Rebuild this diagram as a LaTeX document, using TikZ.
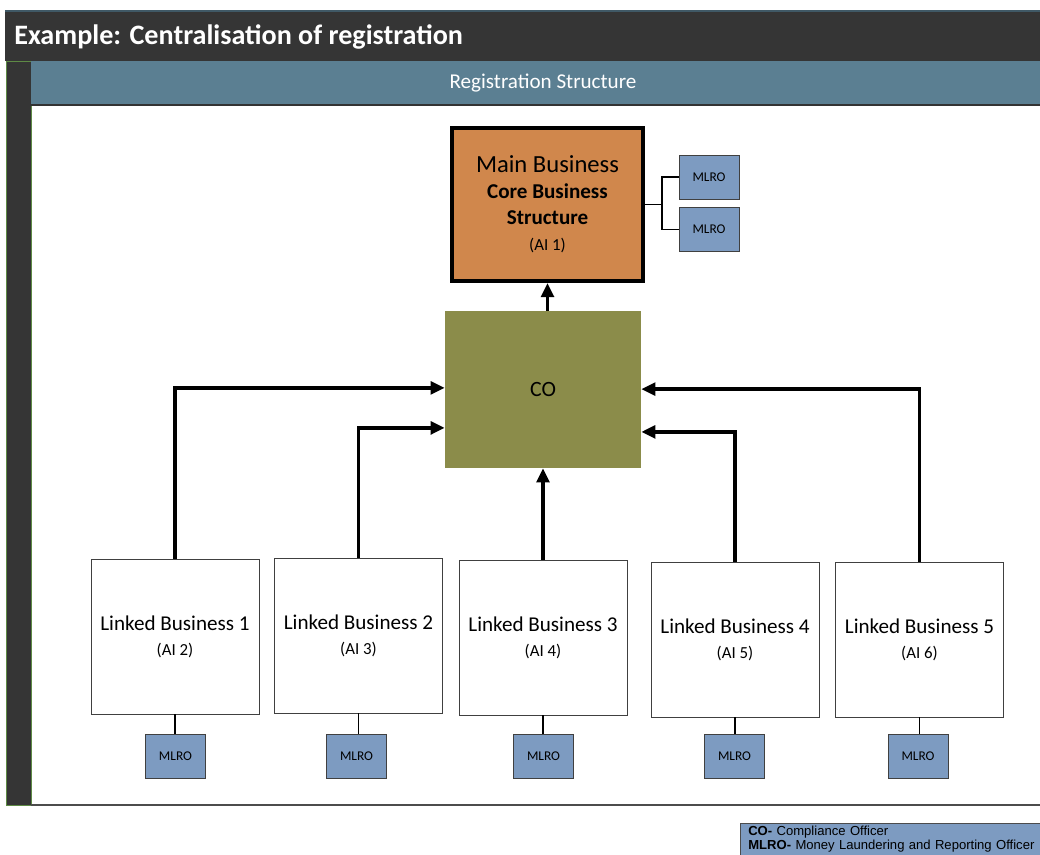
\documentclass[tikz,border=0pt]{standalone}
\usepackage{fontspec}
\setmainfont{Carlito}
\newfontfamily\legendfont{Liberation Sans}
\usetikzlibrary{arrows.meta}

\definecolor{barDark}{HTML}{353535}
\definecolor{headBlue}{HTML}{5B7F92}
\definecolor{mainOrange}{HTML}{D0874C}
\definecolor{coOlive}{HTML}{8B8C4A}
\definecolor{mlroBlue}{HTML}{7D9BC1}
\definecolor{sideGreen}{HTML}{5E8A45}

\tikzset{
  link/.style={draw=black!75, fill=white, minimum width=4.2cm, minimum height=3.875cm, align=center, font=\fontsize{15}{18}\selectfont},
  mlro/.style={draw=black!75, fill=mlroBlue, minimum width=1.5cm, minimum height=1.1cm, font=\fontsize{9.5}{11}\selectfont},
  feed/.style={line width=2.8pt, -{Triangle[length=10pt,width=9pt]}},
  tie/.style={line width=1.3pt}
}

\begin{document}
\begin{tikzpicture}[x=0.025cm, y=-0.025cm]

\useasboundingbox (0,0) rectangle (1040,855);

% frame and header bars
\fill[barDark] (5,11) rectangle (1040,61);
\draw[headBlue!70!black, line width=0.8pt] (5,11) -- (1040,11);
\draw[fill=barDark, draw=sideGreen] (6,61) rectangle (31,805);
\fill[headBlue] (31,61) rectangle (1040,105);
\draw[black!80, line width=0.8pt] (31,105) -- (1040,105);
\draw[black!70, line width=0.8pt] (31,805) -- (1040,805);

\node[anchor=west, inner sep=0, text=white, font=\bfseries\fontsize{20}{24}\selectfont] (title) at (14,37) {Example: Centralisation of registration};
\node[text=white, font=\fontsize{15}{18}\selectfont] (head) at (543,83) {Registration Structure};

% main business and its officers
\node[draw, line width=2.8pt, fill=mainOrange, minimum width=4.775cm, minimum height=3.825cm, align=center, font=\fontsize{15}{18.4}\selectfont] (main) at (547.5,204.5)
  {{\fontsize{17.5}{18.4}\selectfont Main Business}\\
   {\bfseries Core Business}\\
   {\bfseries Structure}\\
   {\fontsize{12}{18.4}\selectfont (AI 1)}};
\node[mlro] (mlroA) at (709,177) {MLRO};
\node[mlro] (mlroB) at (709,229.5) {MLRO};

\coordinate (fork) at (662,204.5);
\draw[tie] (main.east) -- (fork);
\draw[tie] (fork) |- (mlroA.west);
\draw[tie] (fork) |- (mlroB.west);

% compliance officer
\node[fill=coOlive, minimum width=4.9cm, minimum height=3.925cm, font=\fontsize{15.5}{18}\selectfont] (co) at (543,389.5) {CO};

% linked businesses
\node[link] (lb1) at (175,636.5) {Linked Business 1\\{\fontsize{12}{14}\selectfont (AI 2)}};
\node[link] (lb2) at (358.5,635.5) {Linked Business 2\\{\fontsize{12}{14}\selectfont (AI 3)}};
\node[link] (lb3) at (543,637.5) {Linked Business 3\\{\fontsize{12}{14}\selectfont (AI 4)}};
\node[link] (lb4) at (735,639.5) {Linked Business 4\\{\fontsize{12}{14}\selectfont (AI 5)}};
\node[link] (lb5) at (919.5,639.5) {Linked Business 5\\{\fontsize{12}{14}\selectfont (AI 6)}};

\node[mlro] (lm1) at (175.5,756.5) {MLRO};
\node[mlro] (lm2) at (356.5,756.5) {MLRO};
\node[mlro] (lm3) at (543.5,756.5) {MLRO};
\node[mlro] (lm4) at (734.5,756.5) {MLRO};
\node[mlro] (lm5) at (918,756.5) {MLRO};

\draw[tie] (lb1.south) -- (lm1.north -| lb1.south);
\draw[tie] (lb2.south) -- (lm2.north -| lb2.south);
\draw[tie] (lb3.south) -- (lm3.north -| lb3.south);
\draw[tie] (lb4.south) -- (lm4.north -| lb4.south);
\draw[tie] (lb5.south) -- (lm5.north -| lb5.south);

% reporting lines
\draw[feed] (co.north -| main.south) -- (main.south);
\draw[feed] (lb1.north) |- ([yshift=0.04cm]co.west);
\draw[feed] (lb2.north) |- ([yshift=-0.96cm]co.west);
\draw[feed] (lb3.north) -- (co.south);
\draw[feed] (lb4.north) |- ([yshift=-1.06cm]co.east);
\draw[feed] (lb5.north) |- ([yshift=0.01cm]co.east);

% legend
\node[draw=black!70, fill=mlroBlue, anchor=north west, text width=7.4cm, inner xsep=0.2cm, inner ysep=1pt, minimum height=0.8cm, align=left, font=\legendfont\fontsize{9.3}{10.4}\selectfont] (legend) at (740,823)
  {\textbf{CO-} Compliance Officer\\\textbf{MLRO-} Money Laundering and Reporting Officer};

\end{tikzpicture}
\end{document}
